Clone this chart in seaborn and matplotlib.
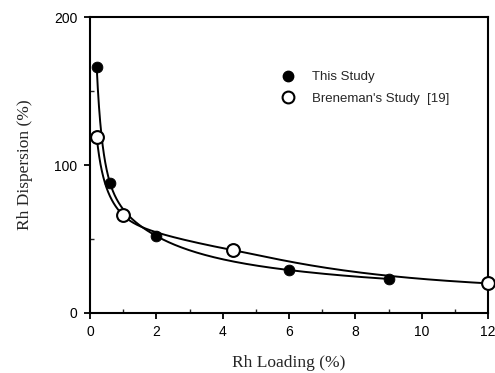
import numpy as np
import pandas as pd
import matplotlib
matplotlib.use("Agg")
import matplotlib.pyplot as plt
import seaborn as sns
from matplotlib.lines import Line2D

# Rh loading (%) vs Rh dispersion (%)
this_x = [0.2, 0.6, 2.0, 6.0, 9.0]
this_y = [166, 88, 52, 29, 23]
bren_x = [0.2, 1.0, 4.3, 12.0]
bren_y = [119, 66, 42.5, 20]

x_ticks = [0, 2, 4, 6, 8, 10, 12]
y_ticks = [0, 100, 200]

sns.set_theme(style="ticks")
plt.rcParams["font.family"] = ["Liberation Sans", "DejaVu Sans"]

fig = plt.figure(figsize=(4.95, 3.73), dpi=100)
ax = fig.add_axes([0.182, 0.161, 0.804, 0.793])


def pchip(x, y, xn):
    # monotone cubic Hermite interpolation
    x, y = np.asarray(x, float), np.asarray(y, float)
    h = np.diff(x)
    d = np.diff(y) / h
    m = np.zeros_like(y)
    for k in range(1, len(x) - 1):
        if d[k - 1] * d[k] > 0:
            w1 = 2 * h[k] + h[k - 1]
            w2 = h[k] + 2 * h[k - 1]
            m[k] = (w1 + w2) / (w1 / d[k - 1] + w2 / d[k])
    m[0] = d[0]
    m[-1] = d[-1]
    idx = np.clip(np.searchsorted(x, xn) - 1, 0, len(h) - 1)
    t = (xn - x[idx]) / h[idx]
    h00 = 2 * t**3 - 3 * t**2 + 1
    h10 = t**3 - 2 * t**2 + t
    h01 = -2 * t**3 + 3 * t**2
    h11 = t**3 - t**2
    return (h00 * y[idx] + h10 * h[idx] * m[idx]
            + h01 * y[idx + 1] + h11 * h[idx] * m[idx + 1])


def smooth(xs, ys, n=300):
    # smooth curve through the points, built in log-log space
    lx, ly = np.log(xs), np.log(ys)
    gx = np.linspace(lx[0], lx[-1], n)
    return pd.DataFrame({"x": np.exp(gx), "y": np.exp(pchip(lx, ly, gx))})


fit_this = smooth(this_x, this_y)
fit_bren = smooth(bren_x, bren_y)
sns.lineplot(data=fit_this, x="x", y="y", ax=ax, color="black", lw=1.4, sort=False)
sns.lineplot(data=fit_bren, x="x", y="y", ax=ax, color="black", lw=1.4, sort=False)

sns.scatterplot(x=this_x, y=this_y, ax=ax, s=60, color="black",
                edgecolor="black", zorder=5, clip_on=False)
sns.scatterplot(x=bren_x, y=bren_y, ax=ax, s=85, facecolor="white",
                edgecolor="black", linewidth=1.5, zorder=6, clip_on=False)

ax.set_xlim(0, 12)
ax.set_ylim(0, 200)
ax.set_xticks(x_ticks)
ax.set_xticklabels([str(t) for t in x_ticks])
ax.set_yticks(y_ticks)
ax.set_yticklabels([str(t) for t in y_ticks])
ax.set_xticks([1, 3, 5, 7, 9, 11], minor=True)
ax.set_yticks([50, 150], minor=True)
ax.tick_params(which="major", direction="out", length=4, width=1.3,
               labelsize=10, colors="black", pad=5)
ax.tick_params(which="minor", direction="in", length=3, width=1.0)

for s in ax.spines.values():
    s.set_linewidth(1.5)
    s.set_color("black")

ax.set_xlabel("Rh Loading (%)", family=["Liberation Serif"], fontsize=12.5, labelpad=11)
ax.set_ylabel("Rh Dispersion (%)", family=["Liberation Serif"], fontsize=12.5, labelpad=15)

handles = [
    Line2D([], [], marker="o", ls="none", color="black", markersize=7.5),
    Line2D([], [], marker="o", ls="none", markerfacecolor="white",
           markeredgecolor="black", markeredgewidth=1.5, markersize=8.5),
]
ax.legend(handles, ["This Study", "Breneman's Study  [19]"], frameon=False,
          loc="upper left", bbox_to_anchor=(0.468, 0.836), fontsize=9.5,
          handletextpad=1.3, labelspacing=0.7, handlelength=1.0,
          borderaxespad=0)

fig.savefig("out.png", dpi=100)
